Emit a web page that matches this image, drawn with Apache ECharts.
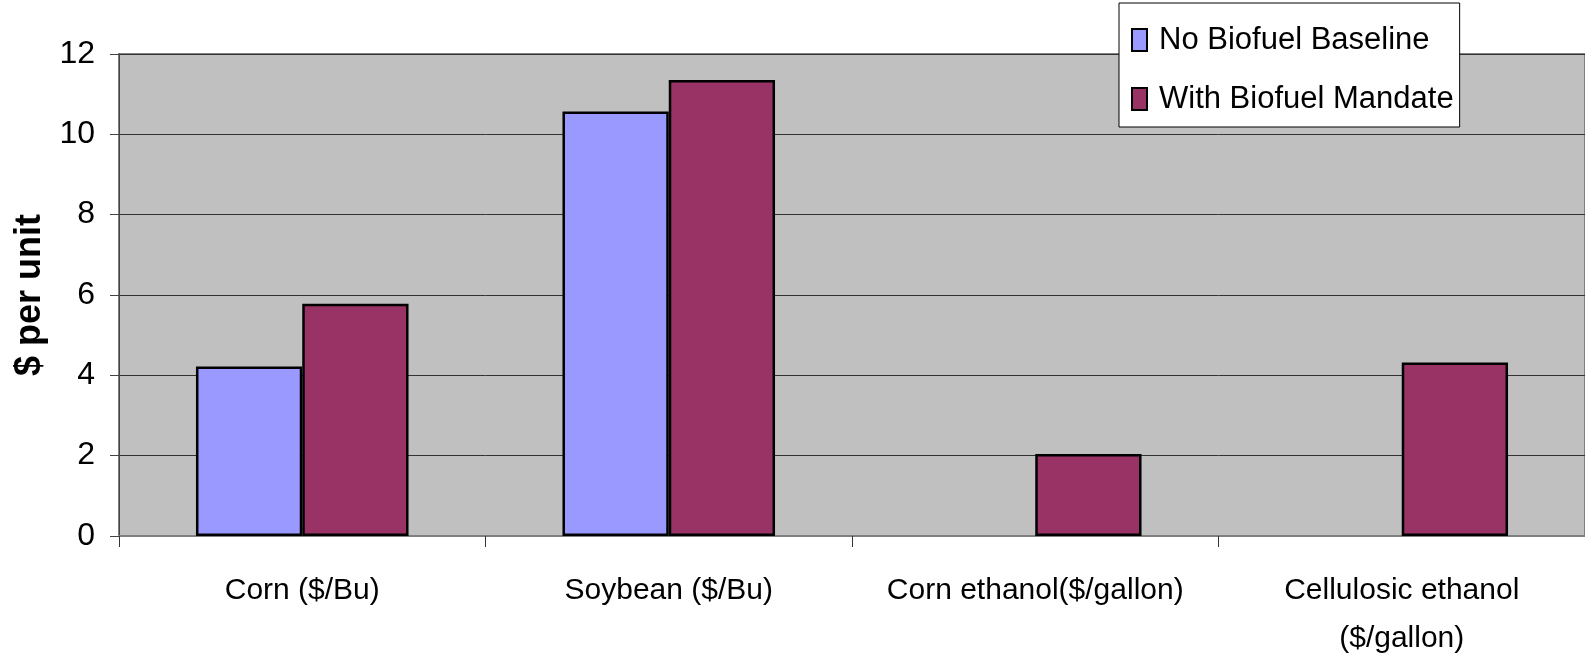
<!DOCTYPE html>
<html>
<head>
<meta charset="utf-8">
<script src="https://cdn.jsdelivr.net/npm/echarts@6/dist/echarts.min.js"></script>
<style>
  html, body { margin: 0; padding: 0; background: #fff; }
  #chart { width: 1585px; height: 668px; }
</style>
</head>
<body>
<div id="chart"></div>
<script>
// Commodity and fuel prices with and without the biofuel mandate
const categories = ['Corn ($/Bu)', 'Soybean ($/Bu)', 'Corn ethanol($/gallon)', 'Cellulosic ethanol\n($/gallon)'];
const baselineValues = [4.22, 10.57, '-', '-'];
const mandateValues = [5.78, 11.35, 2.04, 4.32];
const seriesNames = ['No Biofuel Baseline', 'With Biofuel Mandate'];
const yTicks = { min: 0, max: 12, step: 2 };

const font = 'Liberation Sans, Arial, sans-serif';
const chart = echarts.init(document.getElementById('chart'), null, { renderer: 'canvas' });

chart.setOption({
  animation: false,
  backgroundColor: '#ffffff',
  textStyle: { fontFamily: font, color: '#000' },
  grid: {
    left: 119, top: 54, bottom: 132, right: -8,
    show: true, backgroundColor: '#C0C0C0', borderColor: '#808080', borderWidth: 2
  },
  legend: {
    orient: 'vertical',
    left: 1119, top: 3,
    padding: [20, 6, 11, 12],
    itemGap: 25,
    itemWidth: 15, itemHeight: 22,
    icon: 'rect',
    backgroundColor: '#ffffff',
    borderColor: '#000', borderWidth: 1,
    borderRadius: 0,
    textStyle: { fontFamily: font, fontSize: 31, lineHeight: 34, color: '#000', padding: [0, 0, 0, 7] },
    itemStyle: { borderColor: '#000', borderWidth: 2 },
    data: seriesNames
  },
  xAxis: {
    type: 'category',
    data: categories,
    axisLine: { show: true, lineStyle: { color: '#808080', width: 2 } },
    axisTick: { show: true, alignWithLabel: false, length: 11, lineStyle: { color: '#333', width: 1 } },
    axisLabel: { fontFamily: font, fontSize: 30, color: '#000', margin: 31, lineHeight: 48, interval: 0 },
    splitLine: { show: false }
  },
  yAxis: {
    type: 'value',
    min: yTicks.min, max: yTicks.max, interval: yTicks.step,
    name: '$ per unit',
    nameLocation: 'middle',
    nameGap: 57,
    nameRotate: 90,
    nameTextStyle: { fontFamily: font, fontSize: 36, fontWeight: 'bold', color: '#000' },
    axisLine: { show: true, lineStyle: { color: '#444', width: 1 } },
    axisTick: { show: true, length: 9, lineStyle: { color: '#444', width: 1 } },
    axisLabel: { fontFamily: font, fontSize: 32, color: '#000', margin: 24 },
    splitLine: { show: true, lineStyle: { color: '#333', width: 1 } }
  },
  series: [
    {
      name: seriesNames[0],
      type: 'bar',
      data: baselineValues,
      barGap: '0%',
      barCategoryGap: '42%',
      itemStyle: { color: '#9999FF', borderColor: '#000', borderWidth: 2.5 }
    },
    {
      name: seriesNames[1],
      type: 'bar',
      data: mandateValues,
      barGap: '0%',
      barCategoryGap: '42%',
      itemStyle: { color: '#993366', borderColor: '#000', borderWidth: 2.5 }
    }
  ]
});
</script>
</body>
</html>
